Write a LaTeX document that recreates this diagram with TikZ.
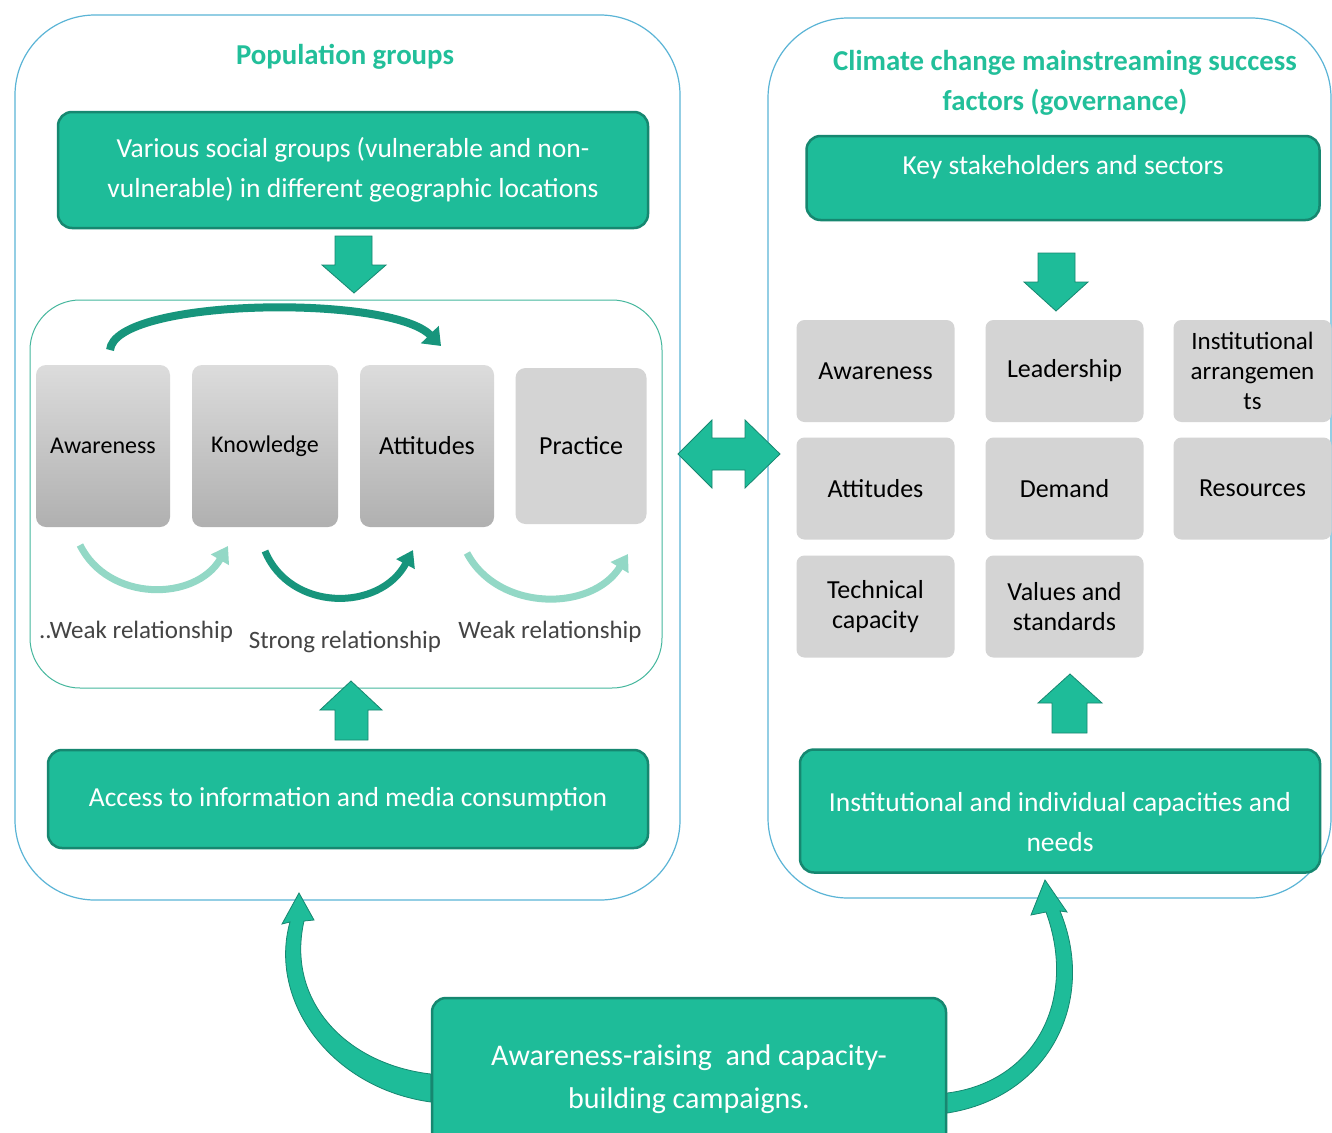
\documentclass[tikz,border=0pt]{standalone}
\usepackage{fontspec}
\setmainfont{Carlito}
\usetikzlibrary{arrows.meta,calc}
\definecolor{tealfill}{HTML}{1EBC99}
\definecolor{tealdark}{HTML}{168770}
\definecolor{outline}{HTML}{5AB4D6}
\definecolor{innerline}{HTML}{45B79D}
\definecolor{greyA}{HTML}{DCDCDC}
\definecolor{greyB}{HTML}{B0B0B0}
\definecolor{greyC}{HTML}{D4D4D4}
\definecolor{lightarrow}{HTML}{93D8C6}
\definecolor{strongarrow}{HTML}{17957C}
\definecolor{titlecol}{HTML}{22BF9A}
\definecolor{labelcol}{HTML}{444444}
\tikzset{
  greenbox/.style={draw=tealdark, line width=2.5pt, fill=tealfill, rounded corners=14pt, text=white, align=center, inner sep=0pt, font=\fontsize{27.5}{40}\selectfont},
  gradbox/.style={rounded corners=10pt, top color=greyA, bottom color=greyB, minimum width=#1, minimum height=162, inner sep=0pt, align=center, font=\fontsize{24}{30}\selectfont},
  flatbox/.style={rounded corners=8pt, fill=greyC, minimum width=158, minimum height=102, inner sep=0pt, align=center, font=\fontsize{26}{30}\selectfont},
  outerbox/.style={draw=outline, line width=1.2pt, rounded corners=80pt},
  blockarrow/.style={fill=tealfill, draw=tealdark, line width=0.8pt},
  relarrow/.style={line width=7pt, -{Triangle[length=16pt, width=20pt]}},
  rellabel/.style={text=labelcol, font=\fontsize{25}{28}\selectfont},
  titletext/.style={text=titlecol, font=\bfseries\fontsize{28.8}{40}\selectfont, align=center},
  whitetext/.style={text=white, align=center, font=\fontsize{27.5}{40}\selectfont}
}
\begin{document}
\begin{tikzpicture}[x=1pt,y=-1pt]
\useasboundingbox (0,0) rectangle (1332,1132);
\fill[white] (0,0) rectangle (1332,1132);

% outer boxes
\draw[outerbox] (15,15) rectangle (680,900);
\draw[outerbox] (768,18) rectangle (1331,898);

% titles
\node[titletext] (ttlL) at (345,57) {Population groups};
\node[titletext] (ttlR) at (1065,83) {Climate change mainstreaming success\\factors (governance)};

% left column
\node[greenbox, minimum width=590, minimum height=116] (groups) at (353,170) {Various social groups (vulnerable and non-\\vulnerable) in different geographic locations};
\draw[blockarrow] (335,236) -- (372,236) -- (372,265) -- (386,265) -- (354,293) -- (322,265) -- (335,265) -- cycle;

\node[draw=innerline, line width=1pt, rounded corners=50pt, minimum width=632, minimum height=388, inner sep=0pt] (inner) at (346,494) {};

\node[gradbox=134] (aw) at (103,446) {Awareness};
\node[gradbox=146] (kn) at (265,446) {Knowledge};
\node[gradbox=134, font=\fontsize{26}{30}\selectfont] (at) at (427,446) {Attitudes};
\node[rounded corners=10pt, fill=greyC, minimum width=131, minimum height=156, inner sep=0pt, font=\fontsize{26}{30}\selectfont] (pr) at (581,446) {Practice};

% top curved arrow
\draw[line width=8pt, strongarrow, -{Triangle[length=16pt, width=24pt]}] (110,350) .. controls (115,298) and (390,294) .. (441,346);

% relationship arrows
\draw[relarrow, lightarrow] (80,545) .. controls (108,602) and (195,602) .. (228,546);
\draw[relarrow, strongarrow] (265,551) .. controls (290,612) and (380,612) .. (413,550);
\draw[relarrow, lightarrow] (467,553) .. controls (498,612) and (592,612) .. (628,554);

\node[rellabel] (wk1) at (136,632) {..Weak relationship};
\node[rellabel] (st) at (345,642) {Strong relationship};
\node[rellabel] (wk2) at (550,632) {Weak relationship};

\draw[blockarrow] (335,740) -- (368,740) -- (368,710) -- (382,710) -- (351,681) -- (320,710) -- (335,710) -- cycle;

\node[greenbox, minimum width=600, minimum height=98] (access) at (348,799) {Access to information and media consumption};

% double arrow
\draw[blockarrow] (678,454) -- (712,420) -- (712,438) -- (745,438) -- (745,420) -- (780,454) -- (745,488) -- (745,470) -- (712,470) -- (712,488) -- cycle;

% right column
\node[greenbox, minimum width=513, minimum height=84] (key) at (1063,178) {};
\node[whitetext] (keyt) at (1063,167) {Key stakeholders and sectors};
\draw[blockarrow] (1038,253) -- (1075,253) -- (1075,282) -- (1088,282) -- (1056,311) -- (1024,282) -- (1038,282) -- cycle;

\node[flatbox] (raw) at (875.5,371) {Awareness};
\node[flatbox] (rld) at (1064.5,371) {Leadership};
\node[flatbox, font=\fontsize{25}{30}\selectfont] (rin) at (1252.5,371) {Institutional\\arrangemen\\ts};
\node[flatbox] (rat) at (875.5,488.5) {Attitudes};
\node[flatbox] (rde) at (1064.5,488.5) {Demand};
\node[flatbox] (rre) at (1252.5,488.5) {Resources};
\node[flatbox] (rtc) at (875.5,606.5) {Technical\\capacity};
\node[flatbox] (rvs) at (1064.5,606.5) {Values and\\standards};

\draw[blockarrow] (1052,733) -- (1087,733) -- (1087,703) -- (1102,703) -- (1070,674) -- (1038,703) -- (1052,703) -- cycle;

\node[greenbox, minimum width=520, minimum height=123] (inst) at (1060,811) {};
\node[whitetext] (instt) at (1060,822) {Institutional and individual capacities and\\needs};

% bottom campaign box
\node[greenbox, minimum width=514, minimum height=150] (camp) at (689,1073) {};
\node[whitetext, font=\fontsize{30}{43}\selectfont] (campt) at (689,1079) {Awareness-raising\ \ and capacity-\\building campaigns.};

% bottom curved arrows
\draw[blockarrow] (camp.west |- 0,1102) .. controls (330,1088) and (268,1000) .. (290,922)
  -- (282,924) -- (299,893) -- (314,920) -- (304,921)
  .. controls (286,1000) and (345,1064) .. (camp.west |- 0,1074) -- cycle;
\draw[blockarrow] (camp.east |- 0,1113) .. controls (1050,1097) and (1097,1000) .. (1060,911)
  -- (1067,912) -- (1045,880) -- (1031,915) -- (1046,912)
  .. controls (1078,1000) and (1035,1082) .. (camp.east |- 0,1093) -- cycle;
\end{tikzpicture}
\end{document}
